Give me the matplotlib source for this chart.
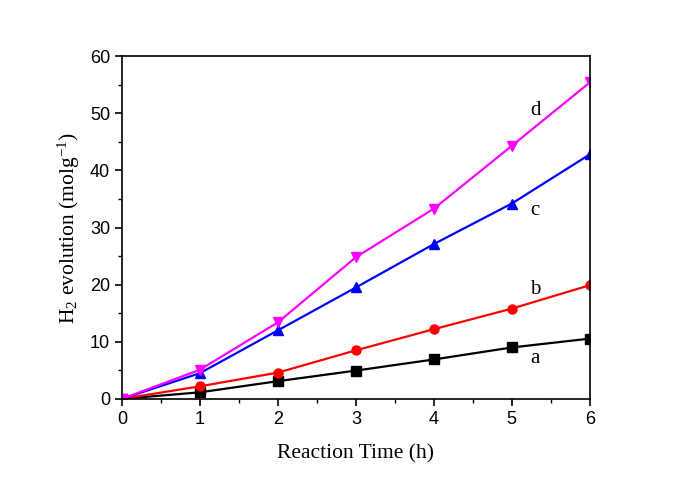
import matplotlib; matplotlib.use("Agg")
import matplotlib.pyplot as plt
from matplotlib.ticker import MultipleLocator

plt.rcParams.update({"font.family": "Liberation Serif", "mathtext.fontset": "custom",
    "mathtext.rm": "Liberation Serif", "mathtext.it": "Liberation Serif:italic",
    "mathtext.bf": "Liberation Serif:bold"})

hours = [0, 1, 2, 3, 4, 5, 6]
a = [0, 1.15, 3.1, 4.95, 6.9, 9.0, 10.55]
b = [0, 2.2, 4.6, 8.5, 12.2, 15.8, 19.9]
c = [0, 4.5, 12.0, 19.5, 27.1, 34.2, 42.8]
d = [0, 5.1, 13.4, 24.8, 33.3, 44.3, 55.4]
series = [("a", a, "black", "s"), ("b", b, "#ff0000", "o"),
          ("c", c, "#0000ff", "^"), ("d", d, "#ff00ff", "v")]
label_pos = {"a": (5.3, 7.0), "b": (5.3, 19.1), "c": (5.3, 33.0), "d": (5.3, 50.5)}

fig = plt.figure(figsize=(6.85, 4.8), dpi=100)
ax = fig.add_axes([0.178, 0.169, 0.683, 0.714])
for name, ys, col, mk in series:
    ax.plot(hours, ys, "-", color=col, marker=mk, ms=6.5, lw=1.6)
    ax.text(*label_pos[name], name, fontsize=15, ha="center", va="center")

ax.set_xlim(0, 6); ax.set_ylim(0, 60)
ax.xaxis.set_major_locator(MultipleLocator(1)); ax.xaxis.set_minor_locator(MultipleLocator(0.5))
ax.yaxis.set_major_locator(MultipleLocator(10)); ax.yaxis.set_minor_locator(MultipleLocator(5))
ax.tick_params(which="major", direction="out", length=5, width=1.2, labelsize=13)
ax.tick_params(which="minor", direction="out", length=3, width=1.0)
for lab in ax.get_xticklabels() + ax.get_yticklabels():
    lab.set_family("Liberation Sans")
for sp in ax.spines.values():
    sp.set_linewidth(1.2)
ax.set_xlabel("Reaction Time (h)", fontsize=15.5, labelpad=12)
ax.set_ylabel("H$_{2}$ evolution (molg$^{-1}$)", fontsize=15.5, labelpad=6)
fig.savefig("out.png", dpi=100)
